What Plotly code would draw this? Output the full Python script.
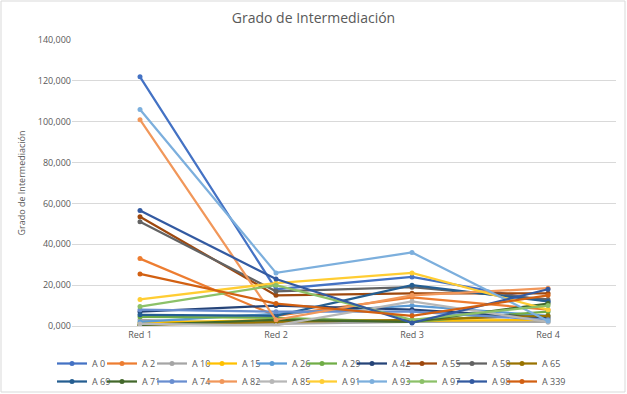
import plotly.graph_objects as go

categories = ["Red 1", "Red 2", "Red 3", "Red 4"]
series_names = ["A 0", "A 2", "A 10", "A 15", "A 26", "A 29", "A 42", "A 55", "A 58", "A 65",
                "A 69", "A 71", "A 74", "A 82", "A 85", "A 91", "A 93", "A 97", "A 98", "A 339"]
series_colors = ["#4472C4", "#ED7D31", "#A5A5A5", "#FFC000", "#5B9BD5", "#70AD47", "#264478", "#9E480E",
                 "#636363", "#997300", "#255E91", "#43682B", "#698ED0", "#F1975A", "#B7B7B7", "#FFCD33",
                 "#7CAFDD", "#8CC168", "#335AA1", "#D26012"]

a0 = [122.0, 18.0, 24.0, 12.0]
a2 = [33.0, 5.0, 14.0, 8.0]
a10 = [3.0, 1.0, 2.0, 2.0]
a15 = [1.5, 3.0, 2.5, 3.0]
a26 = [2.0, 6.0, 10.0, 5.0]
a29 = [4.5, 4.0, 2.0, 7.0]
a42 = [7.0, 10.0, 8.0, 4.0]
a55 = [53.5, 15.0, 16.0, 16.0]
a58 = [51.0, 17.0, 19.0, 13.0]
a65 = [0.5, 2.0, 3.0, 5.0]
a69 = [5.5, 5.0, 20.0, 12.0]
a71 = [0.5, 3.0, 2.0, 11.0]
a74 = [8.0, 7.0, 7.0, 3.0]
a82 = [101.0, 3.0, 15.0, 18.5]
a85 = [1.0, 0.3, 12.0, 2.0]
a91 = [13.0, 21.0, 26.0, 8.0]
a93 = [106.0, 26.0, 36.0, 2.5]
a97 = [9.5, 20.0, 3.0, 10.0]
a98 = [56.5, 23.0, 1.5, 18.0]
a339 = [25.5, 11.0, 5.0, 15.0]

all_values = [a0, a2, a10, a15, a26, a29, a42, a55, a58, a65,
              a69, a71, a74, a82, a85, a91, a93, a97, a98, a339]

y_ticks = [0, 20, 40, 60, 80, 100, 120, 140]
per_row = 10

fig = go.Figure()
for i, (name, color, vals) in enumerate(zip(series_names, series_colors, all_values)):
    last_in_row = (i + 1) % per_row == 0
    fig.add_trace(go.Scatter(
        x=categories, y=vals, name=name, mode="lines+markers",
        line=dict(color=color, width=2.25),
        marker=dict(color=color, size=5),
        legend="legend" if i < per_row else "legend2",
        legendwidth=28 if last_in_row else 5,
    ))

W, H = 627, 394
ml, mr, mt, mb = 72, 11, 40, 68
pw, ph = W - ml - mr, H - mt - mb

legend_common = dict(orientation="h", xref="container", yref="container",
                     x=52 / W, xanchor="left", yanchor="top",
                     font=dict(size=9, color="#595959"), itemwidth=30,
                     tracegroupgap=0, bgcolor="rgba(0,0,0,0)")

fig.update_layout(
    width=W, height=H,
    margin=dict(l=ml, r=mr, t=mt, b=mb, autoexpand=False),
    paper_bgcolor="white", plot_bgcolor="white",
    separators=",.",
    font=dict(family="Open Sans, Liberation Sans, sans-serif", color="#595959", size=9),
    title=dict(text="Grado de Intermediación", x=0.5, xanchor="center", y=1 - 18 / H, yanchor="middle",
               font=dict(size=14, color="#595959")),
    xaxis=dict(type="category", showgrid=False, showline=True, linecolor="#D9D9D9",
               ticks="", tickfont=dict(size=9, color="#595959"), range=[-0.5, 3.5]),
    yaxis=dict(range=[0, 140], tickvals=y_ticks, tickformat=".3f", showgrid=True, gridcolor="#D9D9D9",
               zeroline=False, showline=False, ticks="", tickfont=dict(size=9, color="#595959"),
               title=dict(text="Grado de Intermediación", font=dict(size=9, color="#595959"), standoff=10)),
    legend=dict(legend_common, y=1 - 349 / H),
    legend2=dict(legend_common, y=1 - 367 / H),
    showlegend=True,
    shapes=[dict(type="rect", xref="paper", yref="paper",
                 x0=-(ml - 1) / pw, x1=1 + (mr - 2) / pw,
                 y0=-(mb - 2) / ph, y1=1 + (mt - 1) / ph,
                 line=dict(color="#D9D9D9", width=1), fillcolor="rgba(0,0,0,0)", layer="below")],
)

fig.write_html("out.html", config={"displayModeBar": False},
               post_script="document.body.style.margin='0';")
